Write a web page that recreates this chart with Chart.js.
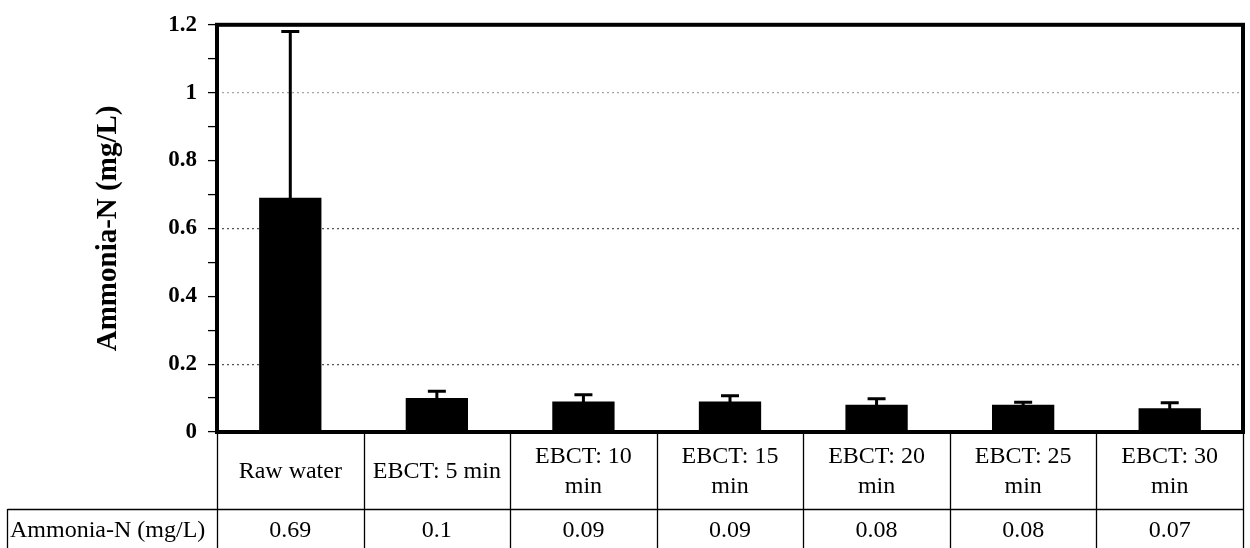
<!DOCTYPE html>
<html>
<head>
<meta charset="utf-8">
<script src="https://cdn.jsdelivr.net/npm/chart.js@4.4.0/dist/chart.umd.min.js"></script>
<style>
  html, body { margin: 0; padding: 0; background: #fff; }
  #wrap { width: 1250px; height: 548px; position: relative; }
</style>
</head>
<body>
<div id="wrap"><canvas id="ammoniaChart"></canvas></div>
<script>
const categories = ['Raw water', 'EBCT: 5 min', 'EBCT: 10 min', 'EBCT: 15 min', 'EBCT: 20 min', 'EBCT: 25 min', 'EBCT: 30 min'];
// header cells as they wrap inside the table
const categoryLines = [['Raw water'], ['EBCT: 5 min'], ['EBCT: 10', 'min'], ['EBCT: 15', 'min'], ['EBCT: 20', 'min'], ['EBCT: 25', 'min'], ['EBCT: 30', 'min']];
const ammoniaMeans = [0.69, 0.1, 0.09, 0.09, 0.08, 0.08, 0.07];
const ammoniaErrors = [0.49, 0.02, 0.02, 0.017, 0.018, 0.008, 0.016];
const yTicks = [0, 0.2, 0.4, 0.6, 0.8, 1, 1.2];
const seriesLabel = 'Ammonia-N (mg/L)';

const SERIF = "'Liberation Serif', 'Times New Roman', serif";

function round1(v) { return Math.round(v * 10) / 10; }

// standard deviation whiskers on top of each bar
const errorBars = {
  id: 'errorBars',
  afterDatasetsDraw(chart) {
    const { ctx, scales: { y } } = chart;
    const bars = chart.getDatasetMeta(0).data;
    ctx.save();
    ctx.strokeStyle = '#000';
    ctx.lineWidth = 3;
    bars.forEach((bar, i) => {
      const hi = y.getPixelForValue(ammoniaMeans[i] + ammoniaErrors[i]);
      const lo = y.getPixelForValue(ammoniaMeans[i] - ammoniaErrors[i]);
      ctx.beginPath();
      ctx.moveTo(bar.x, hi); ctx.lineTo(bar.x, lo);
      ctx.moveTo(bar.x - 9, hi); ctx.lineTo(bar.x + 9, hi);
      ctx.moveTo(bar.x - 9, lo); ctx.lineTo(bar.x + 9, lo);
      ctx.stroke();
    });
    ctx.restore();
  }
};

// heavy frame round the plot plus the data table underneath
const frameAndTable = {
  id: 'frameAndTable',
  afterDraw(chart) {
    const { ctx, chartArea, scales: { x } } = chart;
    const n = categories.length;
    const half = (x.getPixelForValue(1) - x.getPixelForValue(0)) / 2;
    const top = chartArea.bottom;
    const rowSplit = 509;
    const bottom = 548;

    ctx.save();
    ctx.strokeStyle = '#000';
    ctx.lineWidth = 4;
    ctx.strokeRect(chartArea.left, chartArea.top, chartArea.right - chartArea.left, chartArea.bottom - chartArea.top);

    ctx.lineWidth = 1.3;
    ctx.beginPath();
    for (let i = 0; i <= n; i++) {
      const px = Math.round(i < n ? x.getPixelForValue(i) - half : x.getPixelForValue(n - 1) + half) + 0.5;
      ctx.moveTo(px, top); ctx.lineTo(px, bottom);
    }
    ctx.moveTo(7.5, rowSplit + 0.5); ctx.lineTo(chartArea.right, rowSplit + 0.5);
    ctx.moveTo(7.5, rowSplit); ctx.lineTo(7.5, bottom);
    ctx.stroke();

    ctx.fillStyle = '#000';
    ctx.font = '24px ' + SERIF;
    ctx.textAlign = 'center';
    ctx.textBaseline = 'middle';
    categoryLines.forEach((lines, i) => {
      const cx = x.getPixelForValue(i);
      const start = 472 - (lines.length - 1) * 15;
      lines.forEach((t, j) => ctx.fillText(t, cx, start + j * 30));
      ctx.fillText(String(ammoniaMeans[i]), cx, 531);
    });
    ctx.textAlign = 'left';
    ctx.fillText(seriesLabel, 10, 531);
    ctx.restore();
  }
};

new Chart(document.getElementById('ammoniaChart'), {
  type: 'bar',
  data: {
    labels: categories,
    datasets: [{
      label: seriesLabel,
      data: ammoniaMeans,
      backgroundColor: '#000',
      borderWidth: 0,
      barPercentage: 0.425,
      categoryPercentage: 1
    }]
  },
  options: {
    responsive: true,
    maintainAspectRatio: false,
    animation: false,
    events: [],
    layout: { padding: { left: 87, top: 23, right: 7, bottom: 116 } },
    plugins: { legend: { display: false }, tooltip: { enabled: false } },
    scales: {
      x: { display: false },
      y: {
        min: 0,
        max: 1.2,
        afterFit(scale) { scale.width = 130; },
        border: { display: false, dash: [2, 3] },
        grid: {
          drawTicks: true,
          tickLength: 9,
          tickColor: '#000',
          tickWidth: 1.3,
          lineWidth: 1.2,
          color(ctx) {
            const v = ctx.tick ? round1(ctx.tick.value) : -1;
            if (v === 0.2 || v === 0.6) return '#555';
            if (v === 1) return 'rgba(0,0,0,0.35)';
            return 'rgba(0,0,0,0)';
          }
        },
        ticks: {
          stepSize: 0.1,
          autoSkip: false,
          padding: 11,
          color: '#000',
          font: { family: SERIF, size: 23, weight: 'bold' },
          callback(v) {
            const r = round1(v);
            return yTicks.includes(r) ? String(r) : '';
          }
        },
        title: {
          display: true,
          text: seriesLabel,
          color: '#000',
          padding: { top: 4, bottom: 0 },
          font: { family: SERIF, size: 29, weight: 'bold' }
        }
      }
    }
  },
  plugins: [errorBars, frameAndTable]
});
</script>
</body>
</html>
